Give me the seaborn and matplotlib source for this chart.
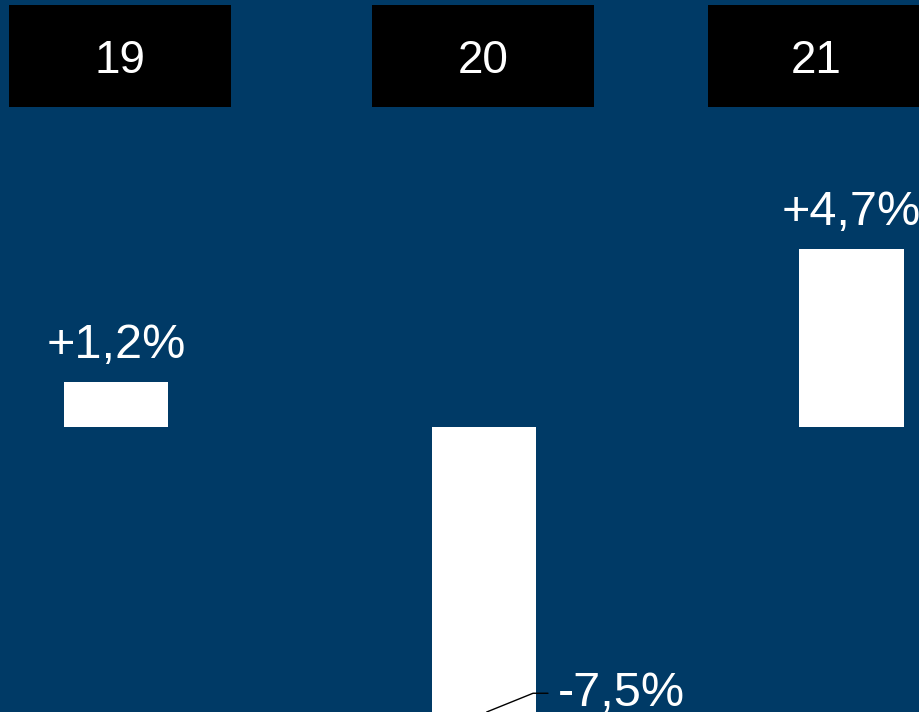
import matplotlib
matplotlib.use("Agg")
import matplotlib.pyplot as plt
import matplotlib.transforms as mtransforms
from matplotlib.patches import Rectangle
import seaborn as sns
import pandas as pd

categories = ["19", "20", "21"]
values = [1.2, -7.5, 4.7]
labels = ["+1,2%", "-7,5%", "+4,7%"]

BG = "#003a66"
sns.set_theme(style="white")
plt.rcParams["font.family"] = ["Liberation Sans", "DejaVu Sans"]

fig = plt.figure(figsize=(9.19, 7.12), dpi=100, facecolor=BG)
ax = fig.add_axes([0, 0, 1, 1])
ax.set_facecolor(BG)

df = pd.DataFrame({"cat": categories, "val": values})
sns.barplot(data=df, x="cat", y="val", color="white", saturation=1,
            width=0.283, edgecolor="none", linewidth=0, ax=ax)

ax.set_xlim(-0.3154, 2.1836)
ax.set_ylim(-7.5, 11.25)
ax.axis("off")

# header boxes (x in data, y in axes)
trans = mtransforms.blended_transform_factory(ax.transData, ax.transAxes)
box_left = [-0.291, 0.696, 1.610]
box_w = 0.6037
for left, cat in zip(box_left, categories):
    ax.add_patch(Rectangle((left, 0.8497), box_w, 0.1433, transform=trans,
                           facecolor="black", edgecolor="none", clip_on=False))
    ax.text(left + box_w / 2 - (0.008 if cat == "21" else 0), 0.921, cat,
            transform=trans, ha="center", va="center_baseline",
            color="white", fontsize=33)

# value labels
for i, (v, lab) in enumerate(zip(values, labels)):
    if v >= 0:
        ax.annotate(lab, xy=(i, v), xytext=(0, 17), textcoords="offset points",
                    ha="center", va="baseline", color="white", fontsize=35,
                    annotation_clip=False)
    else:
        ax.annotate(lab, xy=(i + 0.008, v), xytext=(51.5, 4.5),
                    textcoords="offset points",
                    ha="left", va="baseline", color="white", fontsize=35,
                    annotation_clip=False,
                    arrowprops=dict(arrowstyle="-", color="black", lw=1,
                                    relpos=(0, 0.5), shrinkA=5, shrinkB=0,
                                    connectionstyle="angle,angleA=0,angleB=22,rad=0"))

fig.savefig("out.png", dpi=100, facecolor=BG)
